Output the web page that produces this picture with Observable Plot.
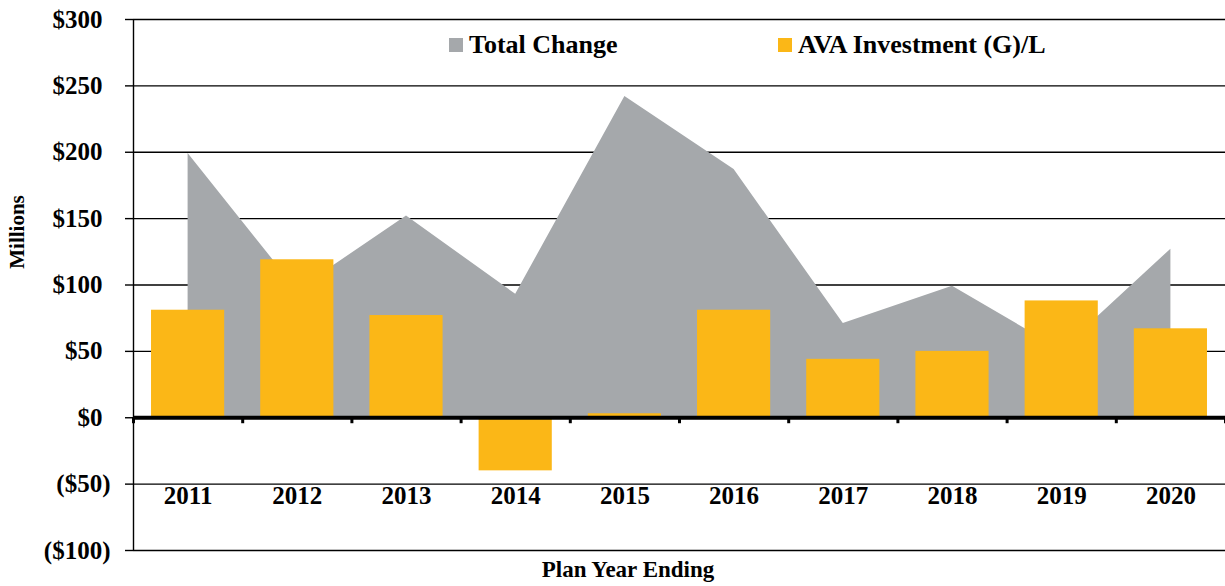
<!DOCTYPE html>
<html><head><meta charset="utf-8">
<script src="https://cdn.jsdelivr.net/npm/d3@7"></script>
<script src="https://cdn.jsdelivr.net/npm/@observablehq/plot@0.6"></script>
<style>
body{margin:0;background:#fff;}
#wrap{position:relative;width:1225px;height:586px;font-family:'Liberation Serif','Times New Roman',serif;font-weight:bold;color:#000;}
#wrap svg text{font-family:'Liberation Serif','Times New Roman',serif;font-weight:bold;}
.lbl{position:absolute;white-space:nowrap;line-height:1;}
.leg{position:absolute;top:45px;transform:translateY(-50%);display:flex;align-items:center;font-size:26px;white-space:nowrap;line-height:1;}
.sw{width:14px;height:14px;margin-right:6px;display:inline-block;}
</style></head><body>
<div id="wrap"></div>
<script>
const years = [2011, 2012, 2013, 2014, 2015, 2016, 2017, 2018, 2019, 2020];
const totalChange = [199, 96, 152, 93, 242, 187, 71, 99, 51, 127];
const avaInvestment = [81, 119, 77, -40, 3, 81, 44, 50, 88, 67];
const yTicks = [-100, -50, 0, 50, 100, 150, 200, 250, 300];
const seriesNames = ["Total Change", "AVA Investment (G)/L"];
const seriesColors = ["#A5A8AB", "#FBB717"];
const yTitle = "Millions";
const xTitle = "Plan Year Ending";

const data = years.map((year, i) => ({i, year, total: totalChange[i], ava: avaInvestment[i]}));
const boundaries = years.map((_, i) => i - 0.5).concat([years.length - 0.5]);
const half = 0.335;

const chart = Plot.plot({
  width: 1225, height: 586,
  marginLeft: 133, marginRight: 0, marginTop: 19, marginBottom: 36,
  style: {fontFamily: "Liberation Serif, serif", fontWeight: "bold", fontSize: "25px", color: "#000", background: "#fff"},
  x: {domain: [-0.5, years.length - 0.5], axis: null},
  y: {domain: [yTicks[0], yTicks[yTicks.length - 1]], axis: null},
  marks: [
    Plot.gridY(yTicks, {stroke: "#000", strokeOpacity: 1, strokeWidth: 1.4}),
    Plot.areaY(data, {x: "i", y: "total", fill: seriesColors[0]}),
    Plot.rect(data, {x1: d => d.i - half, x2: d => d.i + half, y1: 0, y2: "ava", fill: seriesColors[1]}),
    Plot.ruleY([0], {stroke: "#000", strokeWidth: 4}),
    Plot.ruleX(boundaries, {y1: 0, y2: -4.5, stroke: "#000", strokeWidth: 3}),
    Plot.ruleX([-0.5], {y1: yTicks[0], y2: yTicks[yTicks.length - 1], stroke: "#000", strokeWidth: 1.4}),
    Plot.axisY(yTicks.filter(d => d >= 0), {tickSize: 8, tickPadding: 23, tickFormat: d => "$" + d, label: null, strokeWidth: 1.4, strokeOpacity: 1}),
    Plot.axisY(yTicks.filter(d => d < 0), {tickSize: 8, tickPadding: 15, tickFormat: d => "($" + (-d) + ")", label: null, strokeWidth: 1.4, strokeOpacity: 1}),
    Plot.text(data, {x: "i", y: 0, dy: 78, text: d => String(d.year), fontSize: 25})
  ]
});

const wrap = document.getElementById("wrap");
wrap.appendChild(chart);

function addLabel(text, css) {
  const d = document.createElement("div");
  d.className = "lbl";
  d.textContent = text;
  Object.assign(d.style, css);
  wrap.appendChild(d);
}
addLabel(yTitle, {left: "17px", top: "232px", fontSize: "21px", transform: "translate(-50%,-50%) rotate(-90deg)"});
addLabel(xTitle, {left: "628px", top: "569px", fontSize: "23px", transform: "translate(-50%,-50%)"});

const legLeft = [449, 778];
seriesNames.forEach((name, k) => {
  const item = document.createElement("div");
  item.className = "leg";
  item.style.left = legLeft[k] + "px";
  const sw = document.createElement("span");
  sw.className = "sw";
  sw.style.background = seriesColors[k];
  const t = document.createElement("span");
  t.textContent = name;
  item.appendChild(sw);
  item.appendChild(t);
  wrap.appendChild(item);
});
</script>
</body></html>
